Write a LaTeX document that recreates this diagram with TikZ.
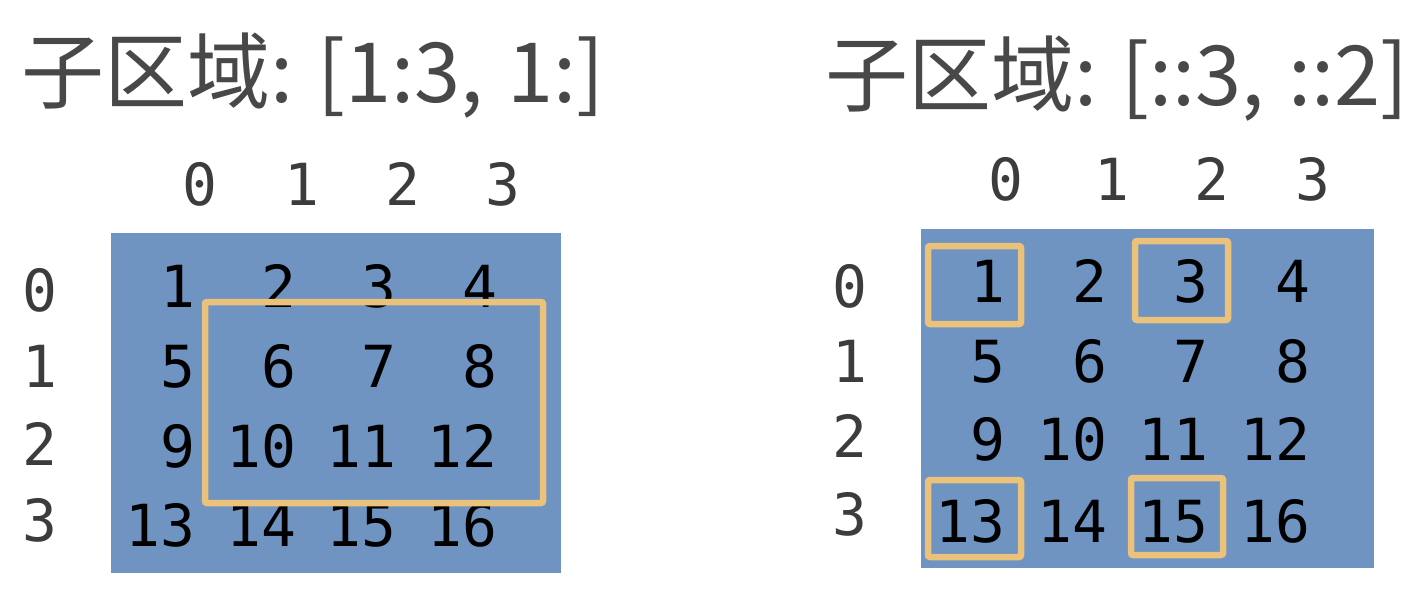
\documentclass[tikz,border=0pt]{standalone}
\usepackage{fontspec}
\newfontfamily\cjk{Noto Sans CJK SC}
\newfontfamily\monof{DejaVu Sans Mono}
\definecolor{cellblue}{HTML}{6F94C1}
\definecolor{selorange}{HTML}{EBC27B}
\definecolor{titlegray}{HTML}{484848}
\definecolor{headgray}{HTML}{3C3C3C}
\tikzset{
  titletext/.style={inner sep=0pt, anchor=base west, text=titlegray, font=\cjk\fontsize{83}{90}\selectfont},
  headtext/.style={inner sep=0pt, anchor=base, text=headgray, font=\monof\fontsize{58}{64}\selectfont},
  numtext/.style={inner sep=0pt, anchor=base east, text=black, font=\monof\fontsize{58}{64}\selectfont},
  gridbg/.style={fill=cellblue, draw=none},
  selbox/.style={draw=selorange, line width=6.5pt, rounded corners=2pt}
}
\begin{document}
\begin{tikzpicture}[x=1pt,y=-1pt]
\useasboundingbox (0,0) rectangle (1420,602);
% titles
\node[titletext] (t1) at (21,102) {子区域:\hspace{24pt}[1:3,\hspace{24pt}1:]};
\node[titletext] (t2) at (825,105) {子区域:\hspace{24pt}[::3,\hspace{24pt}::2]};
% backgrounds
\fill[gridbg] (111,233) rectangle (561,573);
\fill[gridbg] (921,229) rectangle (1374,568);
% left column headers
\foreach \i/\x in {0/200,1/302,2/403,3/503}
  \node[headtext] (lc\i) at (\x,205) {\i};
% left row headers
\foreach \i/\y in {0/311,1/387,2/465,3/541}
  \node[headtext] (lr\i) at (40,\y) {\i};
% right column headers
\foreach \i/\x in {0/1006,1/1112,2/1212,3/1313}
  \node[headtext] (rc\i) at (\x,200) {\i};
% right row headers
\foreach \i/\y in {0/307,1/382,2/457,3/535}
  \node[headtext] (rr\i) at (850,\y) {\i};
% left grid numbers
\foreach \r/\y in {0/307,1/387,2/467,3/546}
  \foreach \c/\x in {0/196,1/297,2/397,3/498}
    {\pgfmathtruncatemacro{\v}{\r*4+\c+1}
     \node[numtext] (l\r\c) at (\x,\y) {\v};}
% right grid numbers
\foreach \r/\y in {0/302,1/382,2/460,3/542}
  \foreach \c/\x in {0/1006,1/1108,2/1209,3/1311}
    {\pgfmathtruncatemacro{\v}{\r*4+\c+1}
     \node[numtext] (r\r\c) at (\x,\y) {\v};}
% selection boxes
\draw[selbox] (205,302) rectangle (543,503);
\draw[selbox] (928,246) rectangle (1021,324);
\draw[selbox] (1135,241) rectangle (1228,320);
\draw[selbox] (928,480) rectangle (1021,557);
\draw[selbox] (1131,478) rectangle (1223,555);
\end{tikzpicture}
\end{document}
